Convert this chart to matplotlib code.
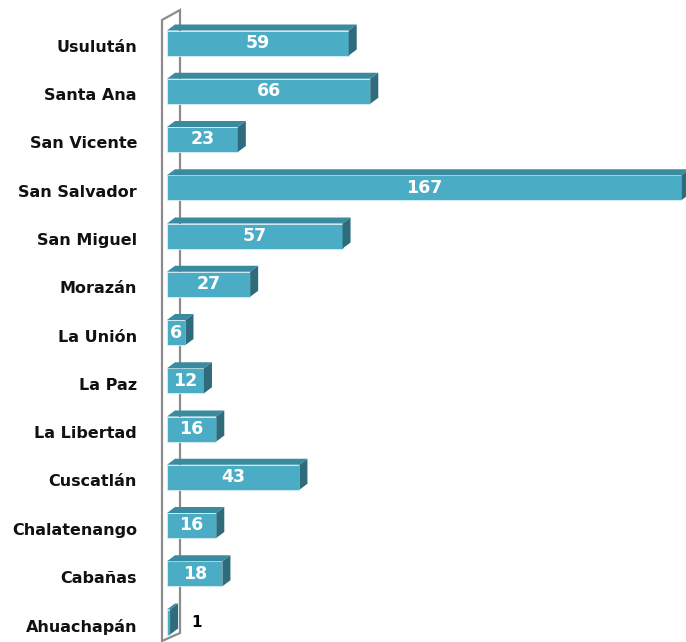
import matplotlib
matplotlib.use("Agg")
import matplotlib.pyplot as plt
import matplotlib.transforms as mtransforms
from matplotlib.patches import Polygon

departments = ["Usulután", "Santa Ana", "San Vicente", "San Salvador", "San Miguel",
               "Morazán", "La Unión", "La Paz", "La Libertad", "Cuscatlán",
               "Chalatenango", "Cabañas", "Ahuachapán"]
counts = [59, 66, 23, 167, 57, 27, 6, 12, 16, 43, 16, 18, 1]

W, H = 686, 642
PX = 3.08        # pixels per unit on x
ROW = 48.25      # pixels between rows
X0 = 167         # pixel of x = 0
Y0 = 43          # pixel centre of first row

front = "#4bacc6"
top_c = "#3b8b9e"
side_c = "#2e6c7b"

fig = plt.figure(figsize=(W / 100, H / 100), dpi=100)
ax = fig.add_axes([X0 / W, 0, 1 - X0 / W, 1])
ax.set_xlim(0, (W - X0) / PX)
ax.set_ylim((H - Y0) / ROW, -Y0 / ROW)

bh = 25 / ROW
dx = 8 / PX
dy = 6 / ROW

# back wall
def px(xp, yp):
    return ((xp - X0) / PX, (yp - Y0) / ROW)

wall = Polygon([px(162, 20), px(180, 10), px(180, 633), px(162, 641)],
               closed=True, facecolor="white", edgecolor="#8c8c8c", lw=1.6,
               clip_on=False, zorder=1)
ax.add_patch(wall)

for i, v in enumerate(counts):
    y_top = i - bh / 2
    y_bot = i + bh / 2
    ax.barh(i, v, height=bh, color=front, edgecolor="#d8eef4", lw=0.6, zorder=3)
    ax.add_patch(Polygon([(0, y_top), (dx, y_top - dy), (v + dx, y_top - dy), (v, y_top)],
                         closed=True, facecolor=top_c, edgecolor="none", zorder=3, clip_on=False))
    ax.add_patch(Polygon([(v, y_top), (v + dx, y_top - dy), (v + dx, y_bot - dy), (v, y_bot)],
                         closed=True, facecolor=side_c, edgecolor="none", zorder=3, clip_on=False))
    if v >= 3:
        ax.text(v / 2, i, str(v), ha="center", va="center", color="white",
                fontsize=12.5, fontweight="bold", zorder=4)
    else:
        ax.text(30 / PX, i, str(v), ha="center", va="center", color="black",
                fontsize=11, fontweight="bold", zorder=4)

ax.set_yticks(range(len(departments)))
ax.set_yticklabels(departments, fontsize=11.5, fontweight="bold", color="#111111")
ax.tick_params(axis="y", length=0, pad=30 * 72 / 100)
shift = mtransforms.ScaledTranslation(0, -3 / 100, fig.dpi_scale_trans)
for lbl in ax.get_yticklabels():
    lbl.set_transform(lbl.get_transform() + shift)
ax.set_xticks([])
for s in ax.spines.values():
    s.set_visible(False)
ax.patch.set_alpha(0)

fig.savefig("out.png", dpi=100)
